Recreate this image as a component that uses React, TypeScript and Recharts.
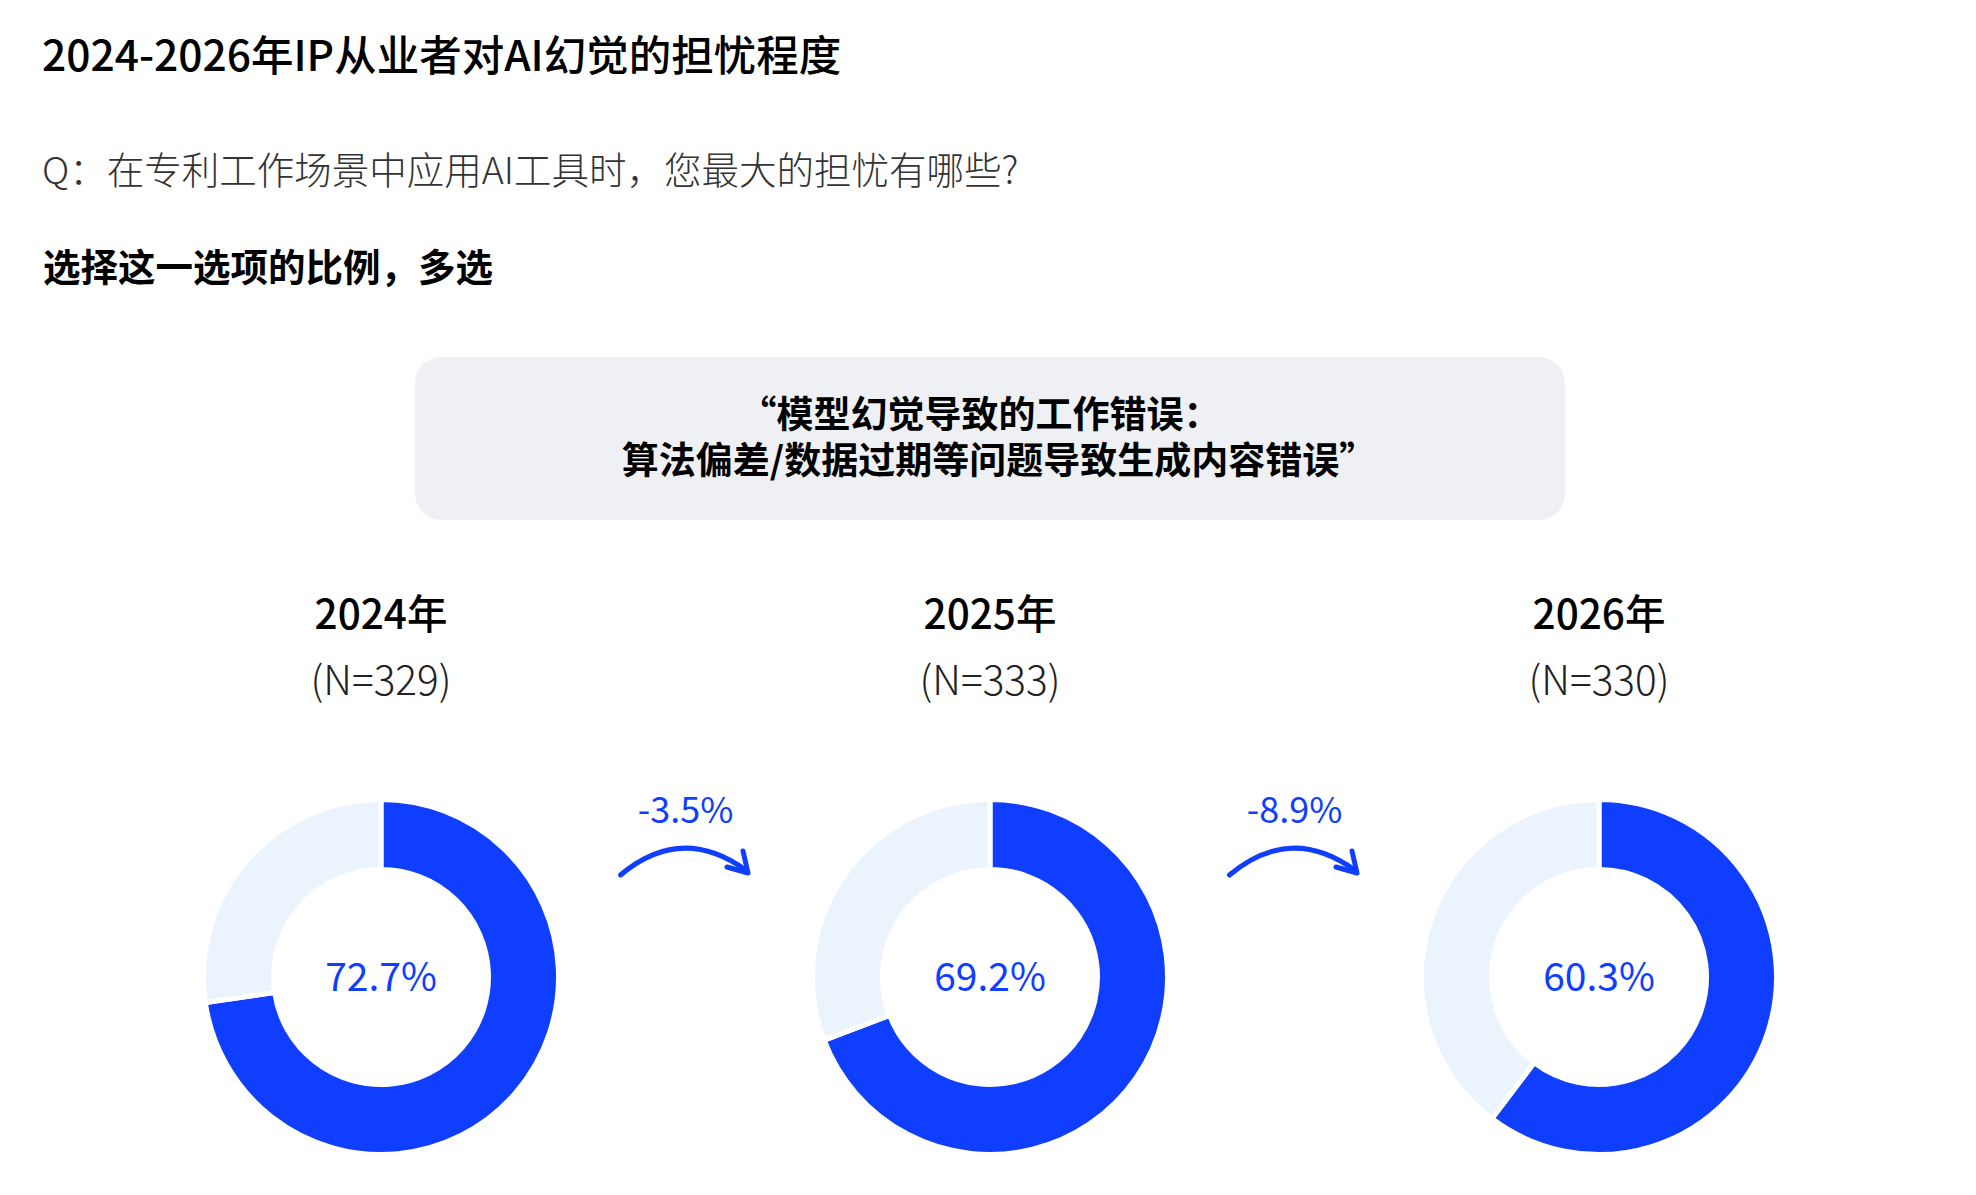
import React from "react";
import { PieChart, Pie, Cell, Label } from "recharts";

const years = ["2024年", "2025年", "2026年"];
const sampleSizes = [329, 333, 330];
const shares = [72.7, 69.2, 60.3];
const changes = ["-3.5%", "-8.9%"];
const segmentNames = ["担忧", "其他"];
const boxLines = ["“模型幻觉导致的工作错误：", "算法偏差/数据过期等问题导致生成内容错误”"];

const BLUE = "#0F3EFF";
const LIGHT = "#EBF3FC";
const FONT = '"Noto Sans CJK SC", "Noto Sans", sans-serif';

const CENTERS_X = [373, 982, 1591];
const CENTER_Y = 969;
const CHART = 400;

function Donut({ share, cx }: { share: number; cx: number }) {
  const data = [
    { name: segmentNames[0], value: share },
    { name: segmentNames[1], value: +(100 - share).toFixed(1) },
  ];
  return (
    <div style={{ position: "absolute", left: cx - CHART / 2, top: CENTER_Y - CHART / 2 }}>
      <PieChart width={CHART} height={CHART} margin={{ top: 0, right: 0, bottom: 0, left: 0 }}>
        <Pie
          data={data}
          dataKey="value"
          nameKey="name"
          cx={CHART / 2}
          cy={CHART / 2}
          startAngle={90}
          endAngle={-270}
          innerRadius={107.5}
          outerRadius={177.5}
          stroke="#ffffff"
          strokeWidth={5}
          isAnimationActive={false}
        >
          <Cell fill={BLUE} />
          <Cell fill={LIGHT} />
          <Label
            value={`${share.toFixed(1)}%`}
            position="center"
            fill={BLUE}
            fontSize={39}
            fontFamily={FONT}
            fontWeight={400}
          />
        </Pie>
      </PieChart>
    </div>
  );
}

function Arrow({ mx }: { mx: number }) {
  return (
    <g fill="none" stroke={BLUE} strokeWidth={5} strokeLinecap="round" strokeLinejoin="round">
      <path d={`M ${mx - 65} 867 Q ${mx - 4} 816 ${mx + 60} 862`} />
      <polyline points={`${mx + 57.5},843 ${mx + 62.5},865 ${mx + 41.5},859`} />
    </g>
  );
}

export default function App() {
  return (
    <div style={{ position: "relative", width: 1960, height: 1180, fontFamily: FONT, background: "#fff" }}>
      <div
        style={{
          position: "absolute",
          left: 34,
          top: 45,
          transform: "translateY(-50%)",
          fontSize: 42.5,
          fontWeight: 500,
          color: "#000",
          whiteSpace: "nowrap",
          lineHeight: 1,
        }}
      >
        2024-2026年IP从业者对AI幻觉的担忧程度
      </div>
      <div
        style={{
          position: "absolute",
          left: 34,
          top: 160,
          transform: "translateY(-50%)",
          fontSize: 37.5,
          fontWeight: 300,
          color: "#333",
          whiteSpace: "nowrap",
          lineHeight: 1,
        }}
      >
        Q：在专利工作场景中应用AI工具时，您最大的担忧有哪些?
      </div>
      <div
        style={{
          position: "absolute",
          left: 35,
          top: 257,
          transform: "translateY(-50%)",
          fontSize: 37.5,
          fontWeight: 700,
          color: "#000",
          whiteSpace: "nowrap",
          lineHeight: 1,
        }}
      >
        选择这一选项的比例，多选
      </div>

      <div
        style={{
          position: "absolute",
          left: 407,
          top: 349,
          width: 1150,
          height: 163,
          borderRadius: 26,
          background: "#EFF0F4",
        }}
      />
      {boxLines.map((line, i) => (
        <div
          key={line}
          style={{
            position: "absolute",
            left: 982 + (i === 0 ? -10 : 9),
            top: 404 + i * 46,
            transform: "translate(-50%, -50%)",
            fontSize: 37,
            fontWeight: 700,
            color: "#000",
            whiteSpace: "nowrap",
            lineHeight: 1,
          }}
        >
          {line}
        </div>
      ))}

      {years.map((y, i) => (
        <React.Fragment key={y}>
          <div
            style={{
              position: "absolute",
              left: CENTERS_X[i],
              top: 604,
              transform: "translate(-50%, -50%)",
              fontSize: 40.5,
              fontWeight: 500,
              color: "#000",
              whiteSpace: "nowrap",
              lineHeight: 1,
            }}
          >
            {y}
          </div>
          <div
            style={{
              position: "absolute",
              left: CENTERS_X[i],
              top: 670,
              transform: "translate(-50%, -50%)",
              fontSize: 40.5,
              fontWeight: 300,
              color: "#222",
              whiteSpace: "nowrap",
              lineHeight: 1,
            }}
          >
            {`(N=${sampleSizes[i]})`}
          </div>
          <Donut share={shares[i]} cx={CENTERS_X[i]} />
        </React.Fragment>
      ))}

      {changes.map((c, i) => {
        const mx = (CENTERS_X[i] + CENTERS_X[i + 1]) / 2;
        return (
          <div
            key={c}
            style={{
              position: "absolute",
              left: mx,
              top: 799,
              transform: "translate(-50%, -50%)",
              fontSize: 36,
              fontWeight: 400,
              color: BLUE,
              whiteSpace: "nowrap",
              lineHeight: 1,
            }}
          >
            {c}
          </div>
        );
      })}

      <svg
        width={1960}
        height={1180}
        style={{ position: "absolute", left: 0, top: 0, pointerEvents: "none" }}
      >
        {changes.map((c, i) => (
          <Arrow key={c} mx={(CENTERS_X[i] + CENTERS_X[i + 1]) / 2} />
        ))}
      </svg>
    </div>
  );
}
